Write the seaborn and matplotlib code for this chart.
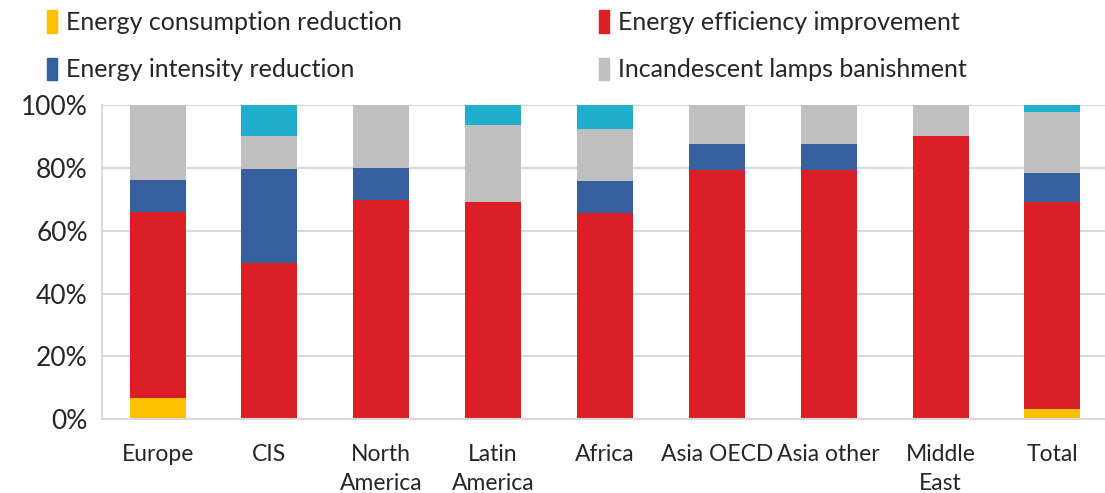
import numpy as np
import pandas as pd
import matplotlib
matplotlib.use('Agg')
import matplotlib.pyplot as plt
import seaborn as sns
from matplotlib.patches import Patch
from matplotlib.ticker import PercentFormatter

sns.set_theme(style='white')
plt.rcParams['font.family'] = ['Lato', 'DejaVu Sans']

REGIONS = ["Europe", "CIS", "North\nAmerica", "Latin\nAmerica", "Africa",
           "Asia OECD", "Asia other", "Middle\nEast", "Total"]

# shares in % (bottom to top)
consumption  = [6.9, 0.0, 0.0, 0.0, 0.0, 0.0, 0.0, 0.0, 3.2]
efficiency   = [59.1, 49.7, 69.8, 69.2, 65.5, 79.2, 79.2, 90.1, 65.9]
intensity    = [10.0, 30.0, 10.2, 0.0, 10.4, 8.3, 8.3, 0.0, 9.2]
incandescent = [24.0, 10.4, 20.0, 24.5, 16.6, 12.5, 12.5, 9.9, 19.5]
other        = [0.0, 9.9, 0.0, 6.3, 7.5, 0.0, 0.0, 0.0, 2.2]

SERIES = ["Energy consumption reduction", "Energy efficiency improvement",
          "Energy intensity reduction", "Incandescent lamps banishment", "Other"]
COLORS = ["#FFC000", "#DA1F26", "#355F9D", "#BFBFBF", "#1FAECB"]

df = pd.DataFrame({"region": REGIONS})
for name, vals in zip(SERIES, [consumption, efficiency, intensity, incandescent, other]):
    df[name] = vals
cum = df[SERIES].cumsum(axis=1)

fig = plt.figure(figsize=(11.05, 4.93), dpi=100)
ax = fig.add_axes([0.092, 0.1495, 0.911, 0.6375])

# stacked bars: draw cumulative totals from the top series down
for name, col in reversed(list(zip(SERIES, COLORS))):
    sns.barplot(x=df["region"], y=cum[name], color=col, width=0.5,
                saturation=1, ax=ax, edgecolor='none')

ax.set_ylim(0, 100)
ax.set_xlim(-0.5, len(REGIONS) - 0.5)
ax.set_yticks(np.arange(0, 101, 20))
ax.yaxis.set_major_formatter(PercentFormatter(decimals=0))
ax.set_xlabel('')
ax.set_ylabel('')
ax.yaxis.grid(True, color='#D9D9D9', linewidth=1.5)
ax.set_axisbelow(True)
for s in ['top', 'right']:
    ax.spines[s].set_visible(False)
for s in ['left', 'bottom']:
    ax.spines[s].set_color('#D9D9D9')
    ax.spines[s].set_linewidth(1.5)
ax.set_xticks(np.arange(-0.5, len(REGIONS), 1), minor=True)
ax.tick_params(axis='x', which='minor', length=7, width=1.2, color='#BFBFBF', direction='out')
ax.tick_params(axis='x', which='major', length=0, pad=18, labelsize=16.5, colors='#262626')
ax.tick_params(axis='y', length=0, pad=10, labelsize=19, colors='#262626')
for lbl in ax.get_xticklabels():
    lbl.set_linespacing(1.45)

left = [Patch(color=COLORS[0], label=SERIES[0]), Patch(color=COLORS[2], label=SERIES[2])]
right = [Patch(color=COLORS[1], label=SERIES[1]), Patch(color=COLORS[3], label=SERIES[3])]
for handles, x in [(left, 0.022), (right, 0.522)]:
    fig.legend(handles=handles, loc='upper left', bbox_to_anchor=(x, 1.025), frameon=False,
               fontsize=18, handlelength=0.4, handleheight=1.0, handletextpad=0.35,
               labelspacing=0.95, labelcolor='#262626')

fig.savefig('out.png', dpi=100)
